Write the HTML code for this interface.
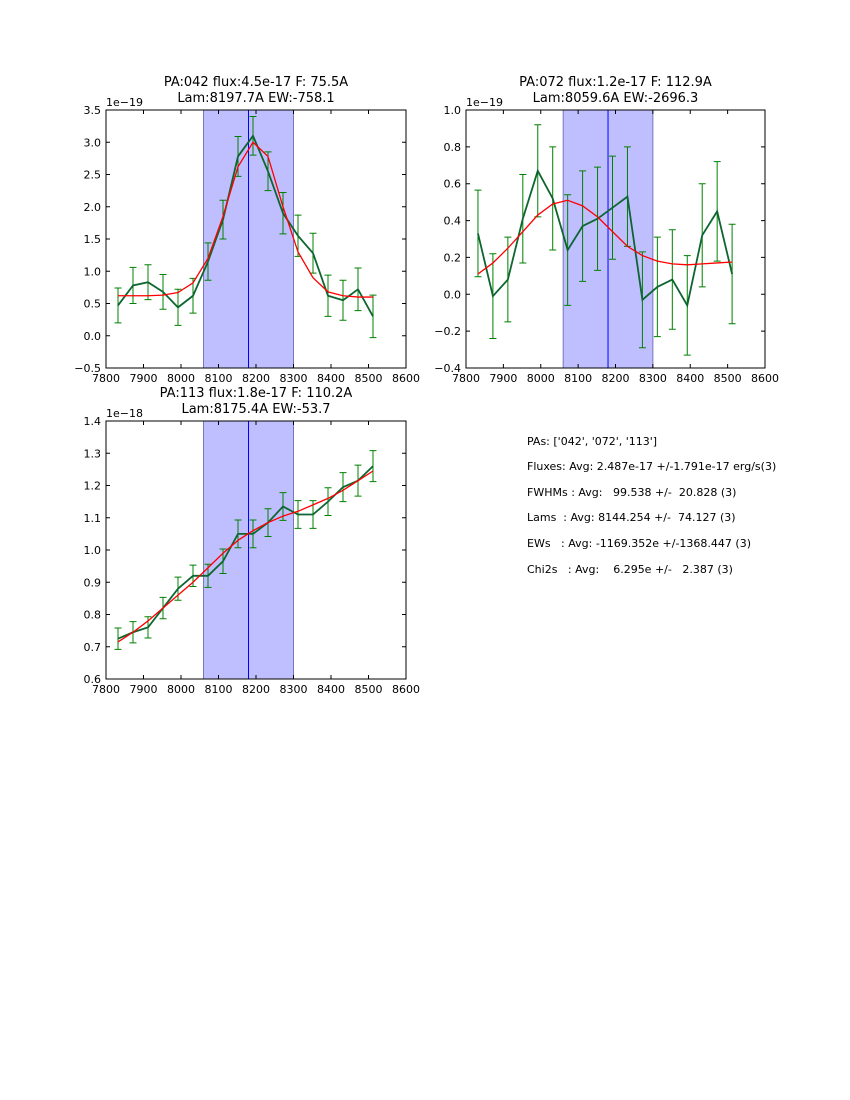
<!DOCTYPE html>
<html><head><meta charset="utf-8"><style>
body{margin:0;background:#fff;}
svg{display:block;font-family:"DejaVu Sans","Liberation Sans",sans-serif;}
</style></head><body>
<svg id="fig" width="850" height="1100">
<g font-size="11" fill="#000">
<text x="527" y="445">PAs: ['042', '072', '113']</text>
<text x="527" y="470" xml:space="preserve">Fluxes: Avg: 2.487e-17 +/-1.791e-17 erg/s(3)</text>
<text x="527" y="496" xml:space="preserve">FWHMs : Avg:   99.538 +/-  20.828 (3)</text>
<text x="527" y="521" xml:space="preserve">Lams  : Avg: 8144.254 +/-  74.127 (3)</text>
<text x="527" y="547" xml:space="preserve">EWs   : Avg: -1169.352e +/-1368.447 (3)</text>
<text x="527" y="573" xml:space="preserve">Chi2s   : Avg:    6.295e +/-   2.387 (3)</text>
</g>
</svg>
<script>
const wave = [7832,7872,7912,7952,7992,8032,8072,8112,8152,8192,8232,8272,8312,8352,8392,8432,8472,8512];
const flux1 = [0.47,0.78,0.83,0.68,0.44,0.62,1.15,1.80,2.78,3.10,2.55,1.90,1.55,1.28,0.62,0.55,0.72,0.30];
const err1 = [0.27,0.28,0.27,0.27,0.28,0.27,0.29,0.30,0.31,0.30,0.30,0.32,0.32,0.31,0.32,0.31,0.33,0.33];
const fit1 = [0.62,0.62,0.62,0.63,0.67,0.82,1.20,1.85,2.62,3.00,2.78,2.00,1.30,0.90,0.68,0.62,0.60,0.60];
const flux2 = [0.33,-0.01,0.08,0.41,0.67,0.52,0.24,0.37,0.41,0.47,0.53,-0.03,0.04,0.08,-0.06,0.32,0.45,0.11];
const err2 = [0.235,0.23,0.23,0.24,0.25,0.28,0.30,0.30,0.28,0.28,0.27,0.26,0.27,0.27,0.27,0.28,0.27,0.27];
const fit2 = [0.11,0.17,0.25,0.34,0.43,0.49,0.51,0.48,0.42,0.34,0.26,0.21,0.18,0.165,0.16,0.165,0.17,0.175];
const flux3 = [0.725,0.745,0.76,0.82,0.88,0.92,0.92,0.965,1.05,1.05,1.085,1.135,1.11,1.11,1.15,1.195,1.215,1.26];
const err3 = [0.033,0.033,0.033,0.033,0.036,0.033,0.036,0.038,0.043,0.043,0.043,0.043,0.043,0.043,0.043,0.045,0.048,0.048];
const fit3 = [0.715,0.745,0.78,0.82,0.86,0.90,0.945,0.99,1.03,1.06,1.085,1.105,1.12,1.14,1.16,1.185,1.215,1.245];
const xTicks = [7800,7900,8000,8100,8200,8300,8400,8500,8600];
const yTicks1 = ["-0.5","0.0","0.5","1.0","1.5","2.0","2.5","3.0","3.5"];
const yTicks2 = ["-0.4","-0.2","0.0","0.2","0.4","0.6","0.8","1.0"];
const yTicks3 = ["0.6","0.7","0.8","0.9","1.0","1.1","1.2","1.3","1.4"];
const shade = [8060,8300];
const lineLam = 8180;

const NS="http://www.w3.org/2000/svg";
const svg=document.getElementById('fig');
function mk(tag,attrs,parent){const e=document.createElementNS(NS,tag);for(const k in attrs)e.setAttribute(k,attrs[k]);parent.appendChild(e);return e;}

function panel(id,L,T,W,H,ymin,ymax,yTicks,flux,err,fit,title1,title2,exp){
  const g=mk('g',{},svg);
  
  
  const xs=v=>L+(v-7800)/800*W;
  const ys=v=>T+H-(v-ymin)/(ymax-ymin)*H;
  const sh=mk('rect',{x:xs(shade[0]),y:T,width:xs(shade[1])-xs(shade[0]),height:H,fill:'#bfbfff',stroke:'#7777bb','stroke-width':1},g);
  
  
  const vl=mk('line',{x1:xs(lineLam),x2:xs(lineLam),y1:T,y2:T+H,stroke:'#0000ff','stroke-width':1},g);
  
  
  for(let i=0;i<wave.length;i++){
    const x=xs(wave[i]),y1=ys(flux[i]-err[i]),y2=ys(flux[i]+err[i]);
    const eb=mk('path',{d:`M${x},${y1}V${y2}M${x-3.5},${y1}H${x+3.5}M${x-3.5},${y2}H${x+3.5}`,stroke:'#008000','stroke-width':1,fill:'none'},g);
    
    
  }
  const dl=mk('polyline',{points:wave.map((w,i)=>xs(w)+','+ys(flux[i])).join(' '),fill:'none',stroke:'#0d6630','stroke-width':1.8},g);
  
  
  const fl=mk('polyline',{points:wave.map((w,i)=>xs(w)+','+ys(fit[i])).join(' '),fill:'none',stroke:'#ff0000','stroke-width':1.3},g);
  
  
  const fr=mk('rect',{x:L,y:T,width:W,height:H,fill:'none',stroke:'#000','stroke-width':1},g);
  
  
  xTicks.forEach(v=>{
    const x=xs(v);
    mk('path',{d:`M${x},${T+H}v-4M${x},${T}v4`,stroke:'#000'},g);
    const t=mk('text',{x:x,y:T+H+14,'font-size':11,'text-anchor':'middle'},g);
    t.textContent=v;
    
    
  });
  yTicks.forEach(s=>{
    const y=ys(parseFloat(s));
    mk('path',{d:`M${L},${y}h4M${L+W},${y}h-4`,stroke:'#000'},g);
    const t=mk('text',{x:L-5,y:y+4,'font-size':11,'text-anchor':'end'},g);
    t.textContent=s.replace('-','\u2212');
    
    
  });
  const ex=mk('text',{x:L,y:T-4,'font-size':11},g);
  ex.textContent='1e\u2212'+exp;
  
  
  const t1=mk('text',{x:L+W/2,y:T-24,'font-size':13,'text-anchor':'middle'},g);
  t1.textContent=title1;
  
  
  const t2=mk('text',{x:L+W/2,y:T-8,'font-size':13,'text-anchor':'middle'},g);
  t2.textContent=title2;
  
  
}
panel('panel-pa042',106,110,300,258,-0.5,3.5,yTicks1,flux1,err1,fit1,'PA:042 flux:4.5e-17 F: 75.5A','Lam:8197.7A EW:-758.1','19');
panel('panel-pa072',466,110,299,258,-0.4,1.0,yTicks2,flux2,err2,fit2,'PA:072 flux:1.2e-17 F: 112.9A','Lam:8059.6A EW:-2696.3','19');
panel('panel-pa113',106,421,300,258,0.6,1.4,yTicks3,flux3,err3,fit3,'PA:113 flux:1.8e-17 F: 110.2A','Lam:8175.4A EW:-53.7','18');
</script>
</body></html>
